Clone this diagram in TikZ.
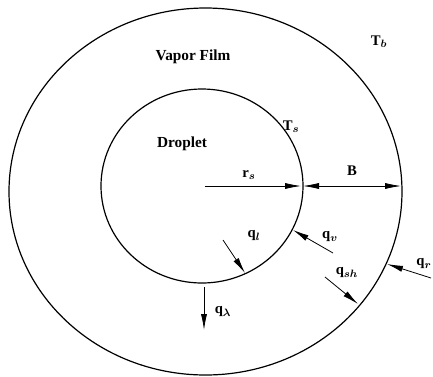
\documentclass[tikz,border=0pt]{standalone}
\usepackage{fontspec}
\setmainfont{Liberation Serif}
\usepackage{amsmath,amssymb}
\usetikzlibrary{positioning,calc}
\usetikzlibrary{arrows.meta}
\tikzset{
  wall/.style={draw=black,line width=0.9pt},
  flux/.style={draw=black,line width=0.6pt,-{Latex[length=12pt,width=4.6pt]}},
  gap/.style={draw=black,line width=0.6pt,{Latex[length=12pt,width=4.6pt]}-{Latex[length=12pt,width=4.6pt]}},
  lab/.style={inner sep=0pt,font=\bfseries\boldmath\fontsize{11}{13}\selectfont},
  region/.style={inner sep=0pt,font=\bfseries\fontsize{11.5}{13}\selectfont},
}

\begin{document}
\begin{tikzpicture}[x=0.75pt,y=-0.75pt]
\useasboundingbox (0,0) rectangle (433,376);
\coordinate (oc) at (205.5,191.5);
\coordinate (ic) at (202,186);
\draw[wall] (oc) ellipse [x radius=196.5,y radius=183.5];
\draw[wall] (ic) ellipse [x radius=101,y radius=97];
\coordinate (rs0) at (205,186);
\coordinate (rs1) at (301,186);
\coordinate (b0) at (303,186);
\coordinate (b1) at (401,186);
\coordinate (ql0) at (223,240);
\coordinate (ql1) at (245,273);
\coordinate (qv0) at (333,253);
\coordinate (qv1) at (293,230);
\coordinate (qk0) at (204,287);
\coordinate (qk1) at (204,330);
\coordinate (qs0) at (325,277);
\coordinate (qs1) at (358,304);
\coordinate (qr0) at (431,278);
\coordinate (qr1) at (387,264);
\draw[flux] (rs0)--(rs1);
\draw[gap] (b0)--(b1);
\draw[flux] (ql0)--(ql1);
\draw[flux] (qv0)--(qv1);
\draw[flux] (qk0)--(qk1);
\draw[flux] (qs0)--(qs1);
\draw[flux] (qr0)--(qr1);
\node[region] (film) at (193,57) {Vapor Film};
\node[region] (drop) at (182,144) {Droplet};
\node[lab] (tb) at (379,42) {T$_b$};
\node[lab] (ts) at (291,127) {T$_s$};
\node[lab] (rs) at (249,175) {r$_s$};
\node[lab] (b) at (352,171) {B};
\node[lab] (ql) at (254,236) {q$_l$};
\node[lab] (qv) at (330,237) {q$_v$};
\node[lab] (qk) at (223,312) {q$_\lambda$};
\node[lab] (qs) at (347,273) {q$_{sh}$};
\node[lab] (qr) at (424,264) {q$_r$};
\end{tikzpicture}
\end{document}
